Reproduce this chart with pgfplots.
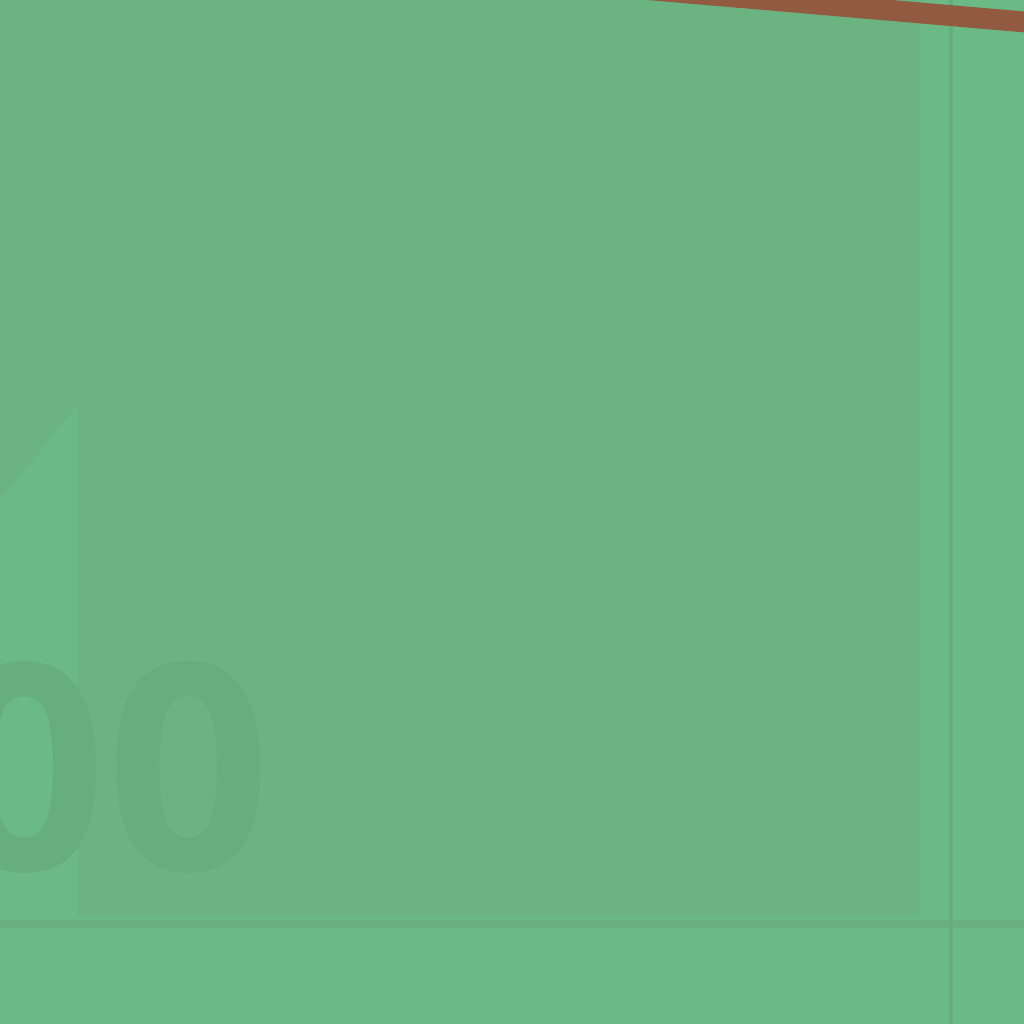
\documentclass[border=0pt]{standalone}
\usepackage{pgfplots}
\pgfplotsset{compat=1.18}
\usepackage{fontspec}
\setmainfont{Open Sans}
\definecolor{bglight}{HTML}{6BB985}
\definecolor{bgdark}{HTML}{6CB382}
\definecolor{gridgreen}{HTML}{67AC7B}
\definecolor{textgreen}{HTML}{66AE7B}
\definecolor{trendbrown}{HTML}{925A40}

\begin{document}
\begin{tikzpicture}
\begin{axis}[
    scale only axis,
    width=10cm, height=10cm,
    xmin=0, xmax=1024,
    ymin=0, ymax=1024,
    y dir=reverse,
    hide axis,
    clip=true,
]
% background
\addplot[fill=bglight, draw=none] coordinates {
    (0,0) (1024,0) (1024,1024) (0,1024)
} -- cycle;
% shaded area
\addplot[fill=bgdark, draw=none] coordinates {
    (0,0) (920,0) (920,915) (77,915) (77,405) (0,500)
} -- cycle;
% grid lines
\addplot[gridgreen, line width=2.2pt, opacity=0.6] coordinates {(0,924) (1024,924)};
\addplot[gridgreen, line width=0.9pt] coordinates {(951,0) (951,1024)};
% trend line
\addplot[trendbrown, line width=5.8pt] coordinates {(560,-18) (1060,25)};
\node[textgreen, anchor=base east, inner sep=0pt,
      font=\fontsize{80}{90}\selectfont\bfseries] at (axis cs:272,870) {00};
\end{axis}
\pgfresetboundingbox
\useasboundingbox (current axis.south west) rectangle (current axis.north east);
\end{tikzpicture}
\end{document}
